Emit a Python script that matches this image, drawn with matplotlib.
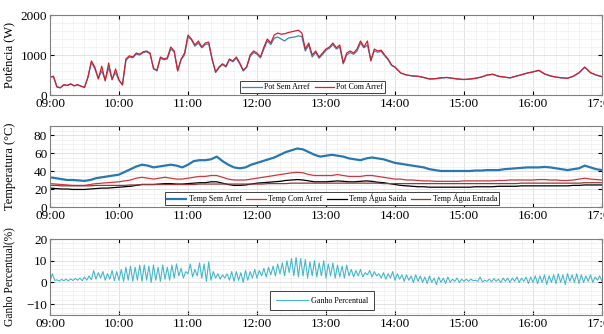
import numpy as np
import pandas as pd
import matplotlib
matplotlib.use('Agg')
import matplotlib.pyplot as plt
import matplotlib.dates as mdates

# ---- data (minutes after 09:00) ----
t_pot_min = list(range(0, 300, 3)) + list(range(300, 481, 5))

pot_com = [450, 470, 200, 180, 260, 240, 280, 230, 260, 220,
           190, 450, 850, 700, 400, 720, 350, 800, 380, 650,
           380, 250, 900, 980, 950, 1050, 1020, 1080, 1100, 1050,
           650, 620, 950, 900, 930, 1200, 1100, 600, 900, 1050,
           1500, 1400, 1250, 1350, 1200, 1300, 1320, 900, 580, 700,
           780, 720, 900, 850, 950, 800, 620, 700, 1000, 1100,
           1050, 950, 1200, 1400, 1300, 1500, 1550, 1520, 1530, 1560,
           1580, 1600, 1620, 1550, 1150, 1300, 1000, 1100, 950, 1050,
           1150, 1200, 1300, 1180, 1250, 800, 1050, 1100, 1050, 1150,
           1350, 1200, 1350, 850, 1150, 1100, 1120, 1000, 900, 750,
           700, 550, 500, 480, 470, 440, 400, 410, 430, 440, 420, 400,
           390, 400, 420, 450, 500, 520, 470, 450, 430, 470, 510, 550,
           580, 620, 530, 480, 450, 430, 420, 470, 560, 700, 560, 500,
           460]

pot_sem = [440, 460, 210, 180, 250, 240, 270, 230, 250, 220,
           190, 440, 820, 650, 420, 600, 380, 680, 400, 560,
           360, 260, 860, 950, 930, 1020, 1000, 1060, 1080, 1030,
           680, 600, 920, 880, 900, 1150, 1080, 620, 880, 1000,
           1450, 1380, 1220, 1300, 1180, 1260, 1280, 880, 560, 680,
           760, 700, 880, 830, 920, 780, 600, 690, 960, 1060,
           1020, 930, 1150, 1350, 1260, 1420, 1450, 1400, 1350, 1420,
           1440, 1450, 1480, 1460, 1100, 1250, 950, 1060, 920, 1010,
           1120, 1170, 1260, 1150, 1200, 780, 1000, 1060, 1020, 1100,
           1300, 1180, 1250, 880, 1100, 1070, 1090, 980, 880, 740,
           690, 550, 500, 475, 465, 435, 400, 405, 425, 435, 415, 395,
           385, 395, 415, 445, 495, 515, 465, 445, 425, 465, 505, 545,
           575, 610, 525, 475, 445, 425, 415, 465, 550, 690, 555, 495,
           455]

t_temp_min = list(range(0, 481, 5))

temp_sem = [33, 32, 31, 30, 30, 29.5, 29, 30, 32, 33, 34, 35,
            36, 39, 42, 45, 47, 46, 44, 45, 46, 47, 46, 44,
            47, 51, 52, 52, 53, 56, 51, 47, 44, 43, 44, 47,
            49, 51, 53, 55, 58, 61, 63, 65, 64, 61, 58, 56,
            57, 58, 57, 56, 54, 53, 52, 54, 55, 54, 53, 51,
            49, 48, 47, 46, 45, 44, 42, 41, 40, 40, 40, 40,
            40, 40, 40.5, 40.5, 41, 41, 41, 42, 42.5, 43, 43.5, 44,
            44, 44, 44.5, 44, 43, 42, 41, 42, 43, 46, 44, 42,
            41]

temp_com = [26, 25.5, 25, 24.5, 24, 24, 24, 25, 26, 26.5, 27, 27.5,
            28, 29, 30, 32, 33, 32, 31, 32, 33, 32, 31, 31,
            32, 33, 34, 34, 35, 35, 33, 31, 30, 30, 30, 31,
            32, 33, 34, 35, 36, 37, 38, 38.5, 38, 36, 35, 35,
            35, 35, 36, 35, 34, 34, 34, 35, 35, 34, 33, 32,
            31, 31, 30, 30, 29.5, 29, 29, 28.5, 28.5, 28.5, 28.5, 28.5,
            29, 29, 29, 29, 29, 29, 29.5, 29.5, 30, 30, 30, 30,
            30, 30.5, 30.5, 30, 30, 29.5, 29.5, 30, 31, 32, 31, 30.5,
            30]

temp_saida = [21, 20.5, 20, 20, 19.5, 19.5, 19.5, 20, 20.5, 21, 21, 21.5,
              22, 22.5, 23, 24, 25, 25, 25, 25.5, 26, 26, 25.5, 25.5,
              26, 26.5, 27, 27, 28, 28, 26.5, 25, 24, 24, 24.5, 25.5,
              26.5, 27, 27.5, 28, 28.5, 29.5, 30, 30.5, 30, 29, 28, 28,
              28, 28.5, 29, 28.5, 28, 28, 28.5, 29, 28.5, 27.5, 27, 26,
              25, 24, 23.5, 23, 22.5, 22.5, 22, 22, 22, 22, 22, 22,
              22, 22, 22.5, 22.5, 22.5, 22.5, 23, 23, 23, 23, 23.5, 23.5,
              23.5, 23.5, 23.5, 23.5, 23.5, 23.5, 23.5, 24, 24, 24.5, 24.5, 24.5,
              24.5]

temp_entrada = [24, 24, 23.5, 23.5, 23.5, 23.5, 23.5, 23.5, 24, 24, 24, 24,
                24, 24, 24.5, 24.5, 25, 25, 25, 25, 25, 25, 25, 25,
                25, 25, 25.5, 25.5, 25.5, 25.5, 25.5, 25.5, 25.5, 25.5, 25.5, 25.5,
                25.5, 25.5, 26, 26, 26, 26, 26.5, 26.5, 26.5, 26.5, 26.5, 26.5,
                26.5, 26.5, 26.5, 26.5, 26.5, 26.5, 26.5, 26.5, 26.5, 26.5, 26, 26,
                26, 26, 26, 26, 26, 26, 26, 26, 26, 26, 26, 26,
                26, 26, 26, 26, 26, 26, 26, 26, 26, 26, 26.5, 26.5,
                26.5, 26.5, 26.5, 26.5, 26.5, 26.5, 26.5, 26.5, 26.5, 27, 27, 27,
                27]

t_ganho_min = list(range(0, 481, 2))

ganho = [0.5, 4, 1, 1.2, 0.6, 1.4, 0.8, 1.5, 0.7, 1.6,
         0.9, 1.8, 1.0, 2.0, 0.8, 2.5, 1.0, 3.0, 1.2, 5.5,
         1.5, 4.5, 2.0, 5.0, 1.0, 4.0, 1.5, 5.5, 0.8, 5.0,
         1.0, 6.0, 0.5, 7.0, 1.0, 7.5, 0.5, 7.0, 1.0, 8.0,
         0.5, 8.0, 1.0, 7.5, 0.0, 8.0, 1.0, 7.0, 0.5, 8.0,
         1.5, 7.0, 1.0, 8.0, 2.0, 8.5, 3.0, 6.5, 2.0, 5.0,
         4.0, 8.5, 2.5, 6.0, 3.0, 9.0, 2.0, 8.5, 0.5, 9.5,
         1.0, 5.0, 2.0, 4.0, 1.5, 3.5, 2.0, 4.0, 1.0, 5.0,
         0.5, 5.0, 1.0, 4.5, 0.0, 5.5, 1.0, 5.0, 2.0, 6.0,
         2.0, 5.5, 3.0, 6.5, 2.5, 7.0, 3.5, 7.5, 3.0, 8.5,
         4.0, 9.0, 3.0, 10.0, 4.5, 11.0, 3.0, 11.5, 2.5, 11.0,
         3.0, 10.5, 2.0, 9.5, 3.0, 10.0, 2.5, 9.0, 3.0, 10.0,
         2.0, 8.5, 3.0, 9.0, 2.0, 8.0, 2.5, 7.5, 2.0, 8.0,
         3.0, 6.0, 2.5, 5.5, 3.0, 6.0, 2.5, 4.5, 3.5, 5.5,
         2.5, 5.0, 3.0, 4.0, 2.0, 4.5, 1.5, 4.0, 2.0, 5.0,
         1.0, 4.0, 1.5, 3.5, 0.5, 3.5, 1.0, 3.0, 0.0, 3.5,
         0.5, 3.0, 0.0, 2.5, -0.5, 3.0, 0.0, 2.0, -1.0, 2.5,
         0.0, 2.0, -0.5, 2.5, 0.0, 1.5, 0.5, 2.0, 0.0, 1.5,
         0.5, 1.5, 0.5, 1.5, 0.8, 1.0, 0.5, 2.5, 0.2, 1.0,
         0.5, 1.5, 0.3, 1.8, 0.5, 1.5, 0.0, 2.0, 0.5, 2.0,
         0.0, 2.0, 0.5, 2.5, 0.0, 2.0, 0.5, 2.5, -0.5, 2.5,
         0.0, 3.0, -0.5, 3.0, 0.0, 3.5, -1.0, 3.0, 0.0, 3.5,
         -0.5, 4.0, 0.0, 3.5, -1.0, 4.0, 0.5, 3.5, 0.0, 4.0,
         -0.5, 3.5, 0.0, 3.0, 0.5, 3.5, 0.0, 2.5, 1.0, 3.0,
         0.5]

start = pd.Timestamp('2020-01-01 09:00')
def to_time(mins):
    return start + pd.to_timedelta(mins, unit='min')

t_pot = to_time(t_pot_min)
t_temp = to_time(t_temp_min)
t_ganho = to_time(t_ganho_min)

plt.rcParams['font.family'] = 'Liberation Serif'
plt.rcParams['font.size'] = 10

fig = plt.figure(figsize=(6.04, 3.34), dpi=100)
W, H = 604.0, 334.0
ax1 = fig.add_axes([50/W, 1 - 95/H, 552/W, 80/H])
ax2 = fig.add_axes([50/W, 1 - 207/H, 552/W, 81/H])
ax3 = fig.add_axes([50/W, 1 - 315/H, 552/W, 76/H])

ax1.plot(t_pot, pot_sem, color='#3a86b8', lw=0.9, label='Pot Sem Arref')
ax1.plot(t_pot, pot_com, color='#d0202e', lw=0.9, label='Pot Com Arref')
ax1.set_ylim(0, 2000)
ax1.set_yticks([0, 1000, 2000])
ax1.set_ylabel('Potência (W)', fontsize=9)

ax2.plot(t_temp, temp_sem, color='#2878b0', lw=1.6, label='Temp Sem Arref')
ax2.plot(t_temp, temp_com, color='#c83a3f', lw=0.9, label='Temp Com Arref')
ax2.plot(t_temp, temp_saida, color='black', lw=0.9, label='Temp Água Saída')
ax2.plot(t_temp, temp_entrada, color='#8c3a3a', lw=0.9, label='Temp Água Entrada')
ax2.set_ylim(0, 90)
ax2.set_yticks([0, 20, 40, 60, 80])
ax2.set_ylabel('Temperatura (°C)', fontsize=9)

ax3.plot(t_ganho, ganho, color='#45b8cc', lw=0.8, label='Ganho Percentual')
ax3.set_ylim(-15, 20)
ax3.set_yticks([-10, 0, 10, 20])
ax3.set_ylabel('Ganho Percentual(%)', fontsize=8.3)

minor_y = {ax1: 200, ax2: 5, ax3: 2}
for ax in (ax1, ax2, ax3):
    ax.set_xlim(start, to_time(480))
    ax.xaxis.set_major_locator(mdates.HourLocator())
    ax.xaxis.set_major_formatter(mdates.DateFormatter('%H:%M'))
    ax.xaxis.set_minor_locator(mdates.MinuteLocator(byminute=[10, 20, 30, 40, 50]))
    ax.yaxis.set_minor_locator(matplotlib.ticker.MultipleLocator(minor_y[ax]))
    ax.grid(which='major', color='#dddddd', lw=0.6)
    ax.grid(which='minor', color='#eeeeee', lw=0.5)
    ax.set_axisbelow(True)
    ax.tick_params(which='major', direction='in', top=True, right=True, length=3, labelsize=9.5, pad=2)
    ax.tick_params(which='minor', length=0)
    ax.yaxis.set_label_coords(-0.062, 0.5)
    for s in ax.spines.values():
        s.set_color('#808080')
        s.set_linewidth(0.8)

leg_kw = dict(fontsize=5.8, fancybox=False, edgecolor='#404040', framealpha=1,
              borderpad=0.25, handlelength=2.4, columnspacing=0.6, handletextpad=0.3,
              borderaxespad=0.2)
l1 = ax1.legend(loc='lower center', bbox_to_anchor=(0.476, 0.0), ncol=2, **leg_kw)
l2 = ax2.legend(loc='lower center', bbox_to_anchor=(0.511, 0.0), ncol=4, **leg_kw)
l3 = ax3.legend(loc='lower center', bbox_to_anchor=(0.493, 0.04), ncol=1,
                fontsize=5.8, fancybox=False, edgecolor='#404040', framealpha=1,
                borderpad=0.7, handlelength=4, handletextpad=0.4, borderaxespad=0.2)
for l in (l1, l2, l3):
    l.get_frame().set_linewidth(0.7)

fig.savefig('out.png', dpi=100)
